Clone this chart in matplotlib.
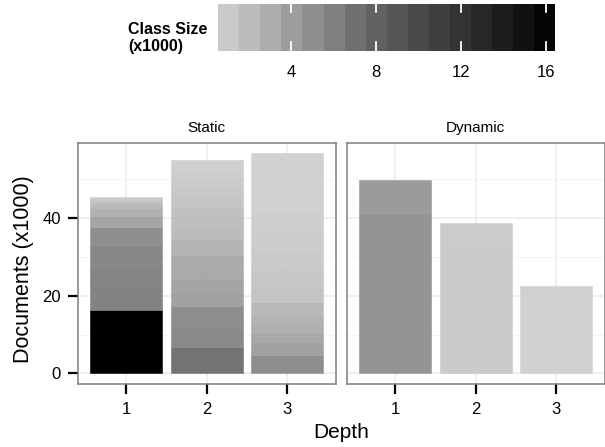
import numpy as np
import matplotlib.pyplot as plt
from matplotlib.colors import LinearSegmentedColormap, Normalize

plt.rcParams['font.family'] = ['Liberation Sans', 'DejaVu Sans']

# documents (x1000) per layer, bottom to top, and the class size (x1000) of each layer
depths = [1, 2, 3]

static_d1_docs = [16.4, 5.9, 5.3, 5.5, 4.7, 2.8, 2.1, 1.3, 0.7, 0.4, 0.4]
static_d1_size = [16.4, 5.8, 5.67, 5.53, 5.0, 3.53, 2.73, 2.2, 1.67, 1.2, 0.87]
static_d2_docs = [6.8, 5.4, 5.1, 3.7, 3.6, 5.9, 4.1, 3.2, 2.8, 2.6, 2.5, 2.4, 2.3, 2.2, 2.3]
static_d2_size = [6.87, 5.47, 5.07, 3.87, 3.6, 3.2, 2.53, 2.05, 1.85, 1.65, 1.45, 1.25, 1.05, 0.85, 0.7]
static_d3_docs = [4.7, 3.4, 2.6, 2.3, 2.0, 3.4, 4.0, 4.5, 5.0, 5.5, 4.2, 15.1]
static_d3_size = [5.07, 3.87, 3.33, 2.93, 2.6, 2.27, 1.5, 1.3, 1.1, 0.95, 0.8, 0.62]

dynamic_d1_docs = [41.3, 8.5]
dynamic_d1_size = [4.73, 4.2]
dynamic_d2_docs = [33.0, 5.7]
dynamic_d2_size = [1.07, 1.0]
dynamic_d3_docs = [20.0, 2.5]
dynamic_d3_size = [0.65, 0.7]

size_min, size_max = 0.6, 16.4
legend_ticks = [4, 8, 12, 16]

panels = [('Static', [(static_d1_docs, static_d1_size), (static_d2_docs, static_d2_size), (static_d3_docs, static_d3_size)]),
          ('Dynamic', [(dynamic_d1_docs, dynamic_d1_size), (dynamic_d2_docs, dynamic_d2_size), (dynamic_d3_docs, dynamic_d3_size)])]

mid = (8.2 - size_min) / (size_max - size_min)
cmap = LinearSegmentedColormap.from_list('cls', [(0, '#d1d1d1'), (mid, '#5f5f5f'), (1, '#000000')])
norm = Normalize(size_min, size_max)

W, H = 605., 447.
fig = plt.figure(figsize=(W/100, H/100), dpi=100)
bottom = 1 - 384.3/H
height = 241.5/H
lefts = [78/W, 347/W]

for i, (name, bars) in enumerate(panels):
    ax = fig.add_axes([lefts[i], bottom, 257.5/W, height])
    for d, (docs, size) in zip(depths, bars):
        base = np.concatenate([[0], np.cumsum(docs)[:-1]])
        cols = cmap(norm(np.array(size)))
        ax.bar([d]*len(docs), docs, bottom=base, width=0.9, color=cols, edgecolor=cols, linewidth=0.4, zorder=2)
    ax.set_xlim(0.4, 3.6)
    ax.set_ylim(-2.83, 59.43)
    ax.set_xticks(depths)
    ax.set_yticks([0, 20, 40])
    ax.set_yticks([10, 30, 50], minor=True)
    ax.grid(True, which='major', color='#ebebeb', lw=1.1, zorder=0)
    ax.grid(True, which='minor', axis='y', color='#f4f4f4', lw=0.7, zorder=0)
    ax.set_axisbelow(True)
    for s in ax.spines.values():
        s.set_color('#7f7f7f')
        s.set_linewidth(1.1)
    ax.tick_params(axis='both', which='major', length=7, width=1.6, color='black', labelsize=12, pad=6)
    ax.tick_params(axis='y', which='minor', length=0)
    ax.tick_params(axis='y', pad=5.5)
    if i == 1:
        ax.tick_params(axis='y', which='both', left=False, labelleft=False)
    ax.text(0.5, 1 + 15/241.5, name, transform=ax.transAxes, ha='center', va='center', fontsize=11)

fig.text(24/W, 1 - 269/H, 'Documents (x1000)', rotation=90, ha='center', va='center', fontsize=15.5)
fig.text(341/W, 1 - 432/H, 'Depth', ha='center', va='center', fontsize=15)

# colour legend
cax = fig.add_axes([218.3/W, 1 - 50.7/H, 336.7/W, 46.7/H])
edges = np.linspace(size_min, size_max, 17)
centers = (edges[:-1] + edges[1:]) / 2
cax.pcolormesh(edges, [0, 1], centers[None, :], cmap=cmap, norm=norm)
for t in legend_ticks:
    cax.plot([t, t], [0, 0.18], color='white', lw=1.3)
    cax.plot([t, t], [0.82, 1], color='white', lw=1.3)
cax.set_xlim(size_min, size_max)
cax.set_ylim(0, 1)
cax.set_xticks(legend_ticks)
cax.set_yticks([])
cax.tick_params(axis='x', length=0, labelsize=12, pad=10)
for s in cax.spines.values():
    s.set_visible(False)
fig.text(128/W, 1 - 38/H, 'Class Size\n(x1000)', ha='left', va='center', fontsize=11.5, fontweight='bold', linespacing=1.1)

fig.savefig('out.png', dpi=100)
